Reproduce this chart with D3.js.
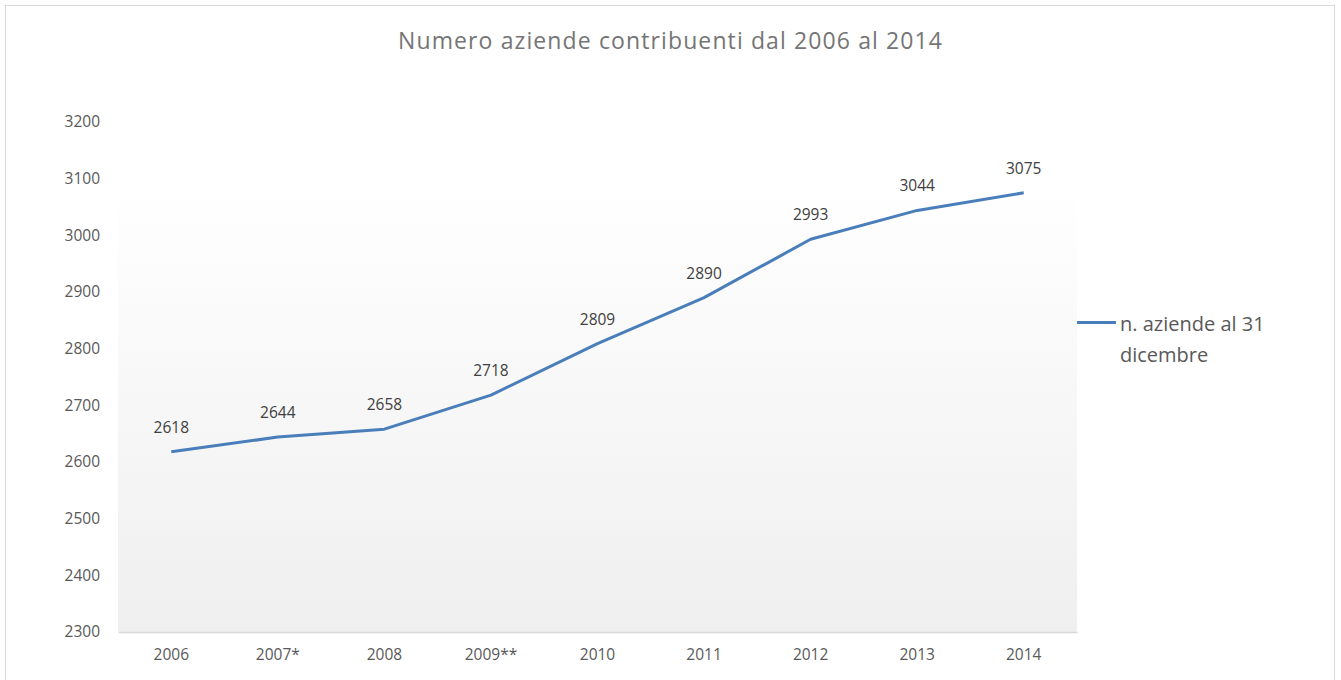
<!DOCTYPE html>
<html>
<head>
<meta charset="utf-8">
<script src="https://cdn.jsdelivr.net/npm/d3@7"></script>
<style>
	body { margin: 0; background: #fff; }
	svg { display: block; }
</style>
</head>
<body>
<div id="chart"></div>
<script>
	const years = ["2006", "2007*", "2008", "2009**", "2010", "2011", "2012", "2013", "2014"];
	const values = [2618, 2644, 2658, 2718, 2809, 2890, 2993, 3044, 3075];
	const yTicks = [2300, 2400, 2500, 2600, 2700, 2800, 2900, 3000, 3100, 3200];
	const seriesName = ["n. aziende al 31", "dicembre"];
	const title = "Numero aziende contribuenti dal 2006 al 2014";

	let
		width = 1341,
		height = 680,
		margin = {top: 122, right: 264, bottom: 48, left: 118},
		font = "'Open Sans', sans-serif",
		svg = d3.select("#chart")
			.append("svg")
			.attr("width", width)
			.attr("height", height),
		x = d3.scaleBand()
			.domain(years)
			.range([margin.left, width - margin.right]),
		y = d3.scaleLinear()
			.domain([2300, 3200])
			.range([height - margin.bottom, margin.top])

	// chart frame
	svg.append("rect")
		.attr("x", 5.5)
		.attr("y", 5.5)
		.attr("width", 1329)
		.attr("height", 690)
		.attr("fill", "#fff")
		.attr("stroke", "#d9d9d9")

	let grad = svg.append("defs").append("linearGradient")
		.attr("id", "plotbg")
		.attr("x1", 0).attr("y1", 0)
		.attr("x2", 0).attr("y2", 1)
	grad.append("stop").attr("offset", "0%").attr("stop-color", "#ffffff")
	grad.append("stop").attr("offset", "12%").attr("stop-color", "#ffffff")
	grad.append("stop").attr("offset", "100%").attr("stop-color", "#efefef")

	svg.append("rect")
		.attr("x", margin.left)
		.attr("y", margin.top)
		.attr("width", width - margin.left - margin.right)
		.attr("height", height - margin.top - margin.bottom)
		.attr("fill", "url(#plotbg)")

	svg.append("text")
		.attr("x", 670)
		.attr("y", 49)
		.attr("text-anchor", "middle")
		.attr("font-family", font)
		.attr("font-size", 23)
		.attr("textLength", 544)
		.attr("lengthAdjust", "spacing")
		.attr("fill", "#757575")
		.text(title)

	// x axis
	let xAxis = svg.append("g")
		.attr("transform", `translate(0,${height - margin.bottom})`)
		.call(d3.axisBottom(x).tickSize(0).tickPadding(17))
	xAxis.select(".domain").attr("stroke", "#d9d9d9").attr("stroke-width", 1.5)
	xAxis.selectAll("text")
		.attr("font-family", font)
		.attr("font-size", 15.5)
		.attr("fill", "#595959")

	// y axis
	let yAxis = svg.append("g")
		.attr("transform", `translate(${margin.left},0)`)
		.call(d3.axisLeft(y).tickValues(yTicks).tickSize(0).tickPadding(18).tickFormat(d3.format("d")))
	yAxis.select(".domain").remove()
	yAxis.selectAll("text")
		.attr("font-family", font)
		.attr("font-size", 15.5)
		.attr("fill", "#595959")

	let line = d3.line()
		.x((d, i) => x(years[i]) + x.bandwidth() / 2)
		.y(d => y(d))

	svg.append("path")
		.datum(values)
		.attr("fill", "none")
		.attr("stroke", "#4a7ebb")
		.attr("stroke-width", 3)
		.attr("stroke-linejoin", "round")
		.attr("d", line)

	svg.append("g")
		.selectAll("text")
		.data(values)
		.join("text")
		.attr("x", (d, i) => x(years[i]) + x.bandwidth() / 2)
		.attr("y", d => y(d) - 19)
		.attr("text-anchor", "middle")
		.attr("font-family", font)
		.attr("font-size", 15.5)
		.attr("fill", "#404040")
		.text(d => d)

	// legend
	let legend = svg.append("g")
	legend.append("line")
		.attr("x1", 1077).attr("x2", 1116)
		.attr("y1", 322.5).attr("y2", 322.5)
		.attr("stroke", "#4a7ebb")
		.attr("stroke-width", 3)
	legend.selectAll("text")
		.data(seriesName)
		.join("text")
		.attr("x", 1120)
		.attr("y", (d, i) => 331 + i * 31)
		.attr("font-family", font)
		.attr("font-size", 20)
		.attr("fill", "#595959")
		.text(d => d)
</script>
</body>
</html>
